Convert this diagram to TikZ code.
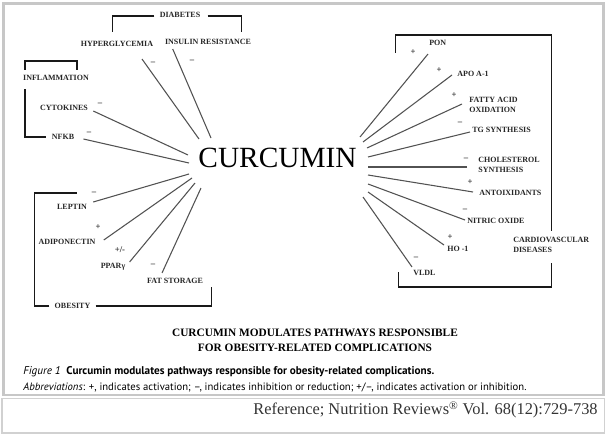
\documentclass[tikz,border=0pt]{standalone}
\usepackage{fontspec}
\setmainfont{Liberation Serif}
\newfontfamily\capfont{PT Sans}
\usepackage{tikz}
\tikzset{every picture/.style={line width=0.5pt}}
\tikzstyle{lab}=[font=\fontsize{6}{7.5}\selectfont\bfseries,inner sep=0pt,text=black!85]
\tikzstyle{sgn}=[font=\fontsize{6.5}{6.5}\selectfont\bfseries,inner sep=0pt,text=black!85]
\tikzstyle{conn}=[draw=black!68,line width=0.8pt]
\tikzstyle{brk}=[draw=black!90,line width=1.1pt]

\begin{document}
\begin{tikzpicture}[x=0.75pt,y=-0.75pt]
\useasboundingbox (0,0) rectangle (609,439);
\draw[black!22,line width=2.2pt] (3.5,3.5) rectangle (603.5,395);
\draw[black!18,line width=0.8pt] (2,398.5) rectangle (604.5,433);

\node[font=\fontsize{22}{22}\selectfont,inner sep=0pt] (CUR) at (277.5,157.5) {CURCUMIN};

% diabetes
\node[lab] (DIA) at (180,15) {DIABETES};
\node[lab] (HYP) at (117,44) {HYPERGLYCEMIA};
\node[lab] (INS) at (208,42) {INSULIN RESISTANCE};
% inflammation
\node[lab] (INF) at (56,78) {INFLAMMATION};
\node[lab] (CYT) at (64,108) {CYTOKINES};
\node[lab] (NFK) at (63,137) {NFKB};
% obesity
\node[lab] (LEP) at (72,207) {LEPTIN};
\node[lab] (ADI) at (67,242) {ADIPONECTIN};
\node[lab] (PPA) at (113,267) {PPARγ};
\node[lab] (FAT) at (175,281) {FAT STORAGE};
\node[lab] (OBE) at (72.5,306) {OBESITY};
% cardiovascular
\node[lab,anchor=west] (PON) at (429,43) {PON};
\node[lab,anchor=west] (APO) at (457,74) {APO A-1};
\node[lab,anchor=west,align=left] (FAO) at (469,105) {FATTY ACID\\OXIDATION};
\node[lab,anchor=west] (TGS) at (472,130) {TG SYNTHESIS};
\node[lab,anchor=west,align=left] (CHO) at (478,164.5) {CHOLESTEROL\\SYNTHESIS};
\node[lab,anchor=west] (ANT) at (479,193) {ANTOIXIDANTS};
\node[lab,anchor=west] (NIO) at (467,221) {NITRIC OXIDE};
\node[lab,anchor=west] (HO) at (447,249) {HO -1};
\node[lab,anchor=west] (VLD) at (413,273) {VLDL};
\node[lab,anchor=west,align=left] (CVD) at (513,245) {CARDIOVASCULAR\\DISEASES};

% signs
\node[sgn] (sHYP) at (153,63) {--};
\node[sgn] (sINS) at (192,61) {--};
\node[sgn] (sCYT) at (100,104) {--};
\node[sgn] (sNFK) at (89,133) {--};
\node[sgn] (sLEP) at (94,193) {--};
\node[sgn] (sADI) at (98,227) {+};
\node[sgn] (sPPA) at (120,250) {+/-};
\node[sgn] (sFAT) at (153,265) {--};
\node[sgn] (sPON) at (413,52) {+};
\node[sgn] (sAPO) at (439,70) {+};
\node[sgn] (sFAO) at (454,95) {+};
\node[sgn] (sTGS) at (460,123) {--};
\node[sgn] (sCHO) at (466,159) {--};
\node[sgn] (sANT) at (470,182) {+};
\node[sgn] (sNIO) at (465,210) {--};
\node[sgn] (sHO) at (450,237) {+};
\node[sgn] (sVLD) at (416,258) {--};

% ends of the rays at CURCUMIN
\coordinate (hHYP) at (199,139);
\coordinate (hINS) at (211,138);
\coordinate (hCYT) at (188,155);
\coordinate (hNFK) at (189,163);
\coordinate (hLEP) at (189,174);
\coordinate (hADI) at (192,178);
\coordinate (hPPA) at (195,183);
\coordinate (hFAT) at (201,188);
\coordinate (hPON) at (360,137);
\coordinate (hAPO) at (363,142);
\coordinate (hFAO) at (367,148);
\coordinate (hTGS) at (368,157);
\coordinate (hCHO) at (368,167);
\coordinate (hANT) at (368,175);
\coordinate (hNIO) at (368,184);
\coordinate (hHO) at (368,192);
\coordinate (hVLD) at (363,197);

\path[conn]
([shift={(25,12)}]HYP.south) edge (hHYP)
([shift={(8,4)}]INS.south west) edge (hINS)
([shift={(5,3)}]CYT.east) edge (hCYT)
([shift={(9,2)}]NFK.east) edge (hNFK)
([shift={(6,-5)}]LEP.east) edge (hLEP)
([shift={(8,-2)}]ADI.east) edge (hADI)
([shift={(4,-5)}]PPA.east) edge (hPPA)
([shift={(-13,-5)}]FAT.north) edge (hFAT)
([shift={(-1,8)}]PON.south west) edge (hPON)
([shift={(-5,1)}]APO.west) edge (hAPO)
([shift={(-7,-1)}]FAO.west) edge (hFAO)
([shift={(-2,2)}]TGS.west) edge (hTGS)
([shift={(-11,2.5)}]CHO.west) edge (hCHO)
([shift={(-6,-1)}]ANT.west) edge (hANT)
([shift={(-2,-1)}]NIO.west) edge (hNIO)
([shift={(-3,-4)}]HO.west) edge (hHO)
([shift={(-1,-3)}]VLD.north west) edge (hVLD);

% brackets
\draw[brk] (DIA.west) ++(-5,1) -| ++(-42,16);
\draw[brk] (DIA.east) ++(7,1) -| ++(34,16);
\draw[brk] (INF.north west) ++(2,-5) |- ++(52,-9) -- ++(0,9);
\draw[brk,shorten >=4.5pt] (INF.south west) ++(2,8) |- (NFK.west);
\draw[brk] (OBE.west) ++(-5,0) -| ++(-15,-113) -- ++(43,0);
\draw[brk] (OBE.east) ++(5,0) -| ++(116,-19);
\draw[brk] (CVD.north) ++(0,-6) |- ++(-156,-196) -- ++(0,18);
\draw[brk] (CVD.south) ++(0,10) |- ++(-153,24) -- ++(0,-15);

% captions
\node[font=\fontsize{8.5}{11.25}\selectfont\bfseries,align=center,inner sep=0pt] (TTL) at (315,340.5)
  {CURCUMIN MODULATES PATHWAYS RESPONSIBLE\\FOR OBESITY-RELATED COMPLICATIONS};
\node[font=\capfont\fontsize{8.4}{9}\selectfont,anchor=west,inner sep=0pt] (FIG) at (23,372)
  {\textit{Figure 1}\enspace\textbf{Curcumin modulates pathways responsible for obesity-related complications.}};
\node[font=\capfont\fontsize{8}{9}\selectfont,anchor=west,inner sep=0pt] (ABB) at (23,387)
  {\textit{Abbreviations}: +, indicates activation; –, indicates inhibition or reduction; +/–, indicates activation or inhibition.};
\node[font=\fontsize{12.3}{14}\selectfont,anchor=east,inner sep=0pt,text=black!80] (REF) at (598,410)
  {Reference; Nutrition Reviews\textsuperscript{\textregistered} Vol. 68(12):729-738};
\end{tikzpicture}
\end{document}
